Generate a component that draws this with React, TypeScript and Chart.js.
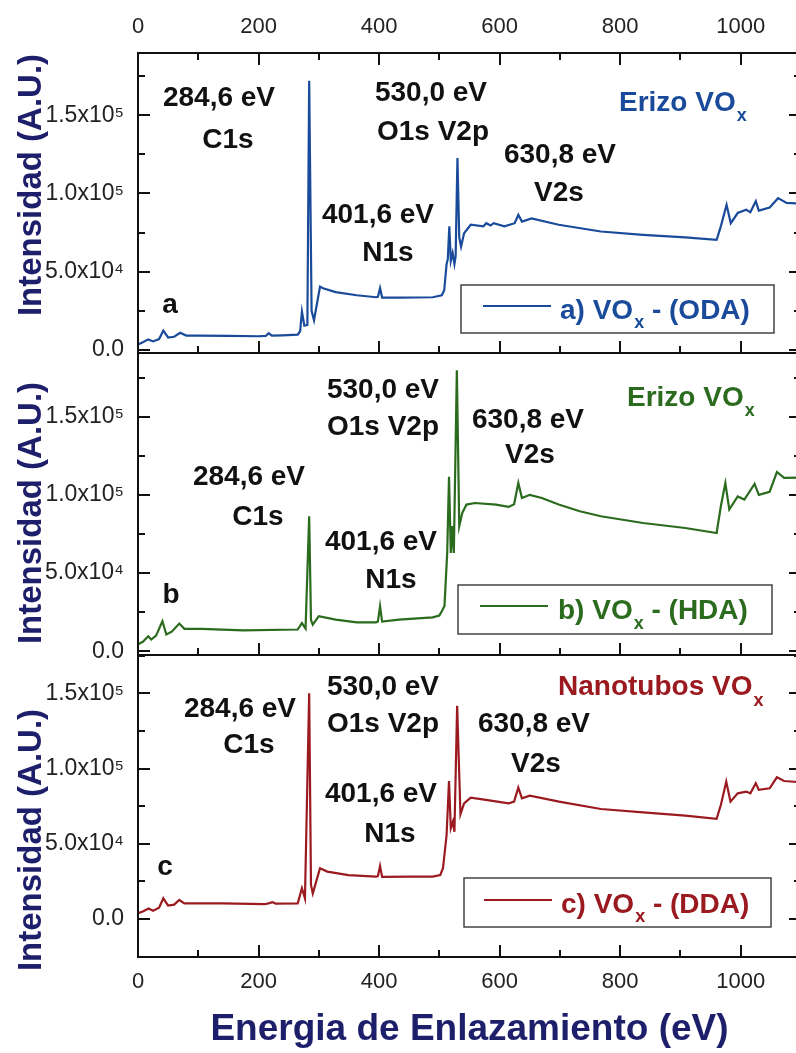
import React, { useEffect, useRef } from 'react';
import { Chart, registerables } from 'chart.js';

Chart.register(...registerables);

const FONT = '"Liberation Sans", Arial, Helvetica, sans-serif';
const NAVY = '#1d1f6b';
const BLUE = '#1a4b9b';
const GREEN = '#2a6b1d';
const RED = '#9b1a20';

// Axis ticks
const energyTicks = [0, 200, 400, 600, 800, 1000];
const energyMinorTicks = [100, 300, 500, 700, 900];
const intensityTicks = [0, 50000, 100000, 150000];
const intensityMinorTicks = [25000, 75000, 125000, 175000];

// a) VOx - (ODA)
const energyA = [0, 8, 17, 25, 35, 42, 50, 60, 70, 80, 100, 150, 200, 212, 217, 222, 240, 265, 269, 272, 276, 281, 284, 288, 292, 302, 307, 328, 363, 395, 398, 401.6, 405, 433, 489, 504, 508, 512, 514, 516.5, 519, 522, 525, 527, 530, 533, 536, 541, 552, 573, 578, 585, 590, 608, 625, 631, 637, 653, 698, 768, 838, 908, 960, 967, 976.5, 983.5, 995, 1009, 1016, 1025, 1030, 1048, 1062, 1076, 1100];
const intensityA = [3500, 5000, 6800, 5500, 7000, 12400, 8000, 8500, 11000, 9200, 9200, 9000, 8800, 9000, 10700, 9200, 9400, 9800, 12000, 24500, 15500, 16000, 172000, 25000, 19000, 40500, 39500, 37000, 35000, 33700, 34000, 39500, 33500, 33500, 33700, 35000, 38000, 55000, 58000, 79000, 57000, 62000, 55000, 60000, 122600, 72000, 66000, 74600, 80000, 79000, 81000, 79500, 81000, 79000, 81000, 86400, 82000, 84000, 80000, 75700, 73600, 72000, 70400, 79000, 92800, 81000, 87500, 89600, 88000, 95000, 89000, 91000, 97000, 94000, 93500];

// b) VOx - (HDA)
const energyB = [0, 8, 17, 22, 30, 40.5, 47, 56, 68.5, 77, 105, 175, 265, 272, 278, 284, 287, 290, 300, 328, 363, 395, 398, 401.6, 405, 433, 489, 500, 504, 508.5, 513, 516, 519, 521, 524, 529, 533, 538, 545, 559, 594, 615, 624, 631, 637, 650, 670, 698, 733, 768, 838, 908, 960, 967, 974.5, 981, 995, 1006, 1023, 1030, 1048, 1060, 1072, 1100];
const intensityB = [4500, 6000, 9600, 7500, 10000, 19200, 10700, 12500, 17700, 14300, 14300, 13400, 13900, 18000, 14500, 86300, 20000, 17000, 22400, 20200, 18500, 18500, 19000, 28800, 19000, 20200, 21700, 22800, 25600, 29000, 62900, 111500, 62900, 80000, 62900, 179600, 80000, 88400, 93800, 94800, 93800, 92300, 94000, 107600, 98000, 100000, 98000, 93800, 89500, 86300, 82000, 78800, 75600, 92700, 107600, 90600, 99000, 97000, 107000, 100000, 102000, 114600, 110800, 111000];

// c) VOx - (DDA)
const energyC = [0, 8, 17.5, 25, 35, 42, 50, 60, 68.5, 77, 140, 210, 218, 223, 228, 265, 272, 277, 284, 287, 290, 302, 314, 349, 395, 398, 401.6, 405, 454, 489, 501.5, 506, 512, 516, 519, 522.5, 525, 529.5, 535, 541, 552, 580, 615, 624, 631, 637, 650, 698.5, 768, 838, 908, 960, 967, 976, 983, 995, 1009, 1016, 1025, 1030, 1048, 1060, 1072, 1100];
const intensityC = [3800, 5000, 7000, 5500, 7500, 13700, 8900, 9500, 12600, 10400, 10400, 9800, 10500, 11200, 10200, 10400, 20400, 13700, 150000, 22600, 17000, 33700, 31500, 29200, 28100, 28500, 35200, 28000, 28100, 28100, 29200, 33700, 55800, 91700, 60300, 64700, 58000, 141800, 69600, 76900, 80700, 79000, 76900, 78000, 87300, 80200, 82000, 78000, 73100, 70900, 68700, 66500, 75800, 91300, 78000, 83500, 84700, 83500, 90200, 85800, 86900, 94200, 91700, 90900];

const SUP: Record<string, string> = { '0': '⁰', '1': '¹', '2': '²', '3': '³', '4': '⁴', '5': '⁵', '6': '⁶', '7': '⁷', '8': '⁸', '9': '⁹' };
function fmtIntensity(v: number): string {
  if (v === 0) return '0.0';
  const e = Math.floor(Math.log10(v) + 1e-9);
  const m = v / Math.pow(10, e);
  return m.toFixed(1) + 'x10' + String(e).split('').map((c) => SUP[c]).join('');
}

type Ann = [string, number, number];
type PanelCfg = {
  key: string;
  top: number;
  height: number;
  padTop: number;
  padBottom: number;
  xMode: 'top' | 'none' | 'bottom';
  yMin: number;
  yMax: number;
  energy: number[];
  intensity: number[];
  color: string;
  label: string;
  titleCenterY: number;
  anns: Ann[];
  sample: { text: string; x: number; y: number; subY: number };
  legend: { box: [number, number, number, number]; line: [number, number, number]; x: number; y: number; subY: number; pre: string; post: string };
};

const panels: PanelCfg[] = [
  {
    key: 'a', top: 0, height: 360, padTop: 0, padBottom: 7, xMode: 'top',
    yMin: -1900, yMax: 189700, energy: energyA, intensity: intensityA, color: BLUE,
    label: 'a) VOx - (ODA)', titleCenterY: 185,
    anns: [['284,6 eV', 219, 106], ['C1s', 228, 148], ['530,0 eV', 431, 101], ['O1s V2p', 433, 140], ['630,8 eV', 560, 163], ['V2s', 559, 201], ['401,6 eV', 378, 223], ['N1s', 388, 261], ['a', 170, 313]],
    sample: { text: 'Erizo VO', x: 619, y: 111, subY: 121 },
    legend: { box: [461, 285, 774, 333], line: [483, 551, 306], x: 560, y: 319, subY: 328, pre: 'a) VO', post: ' - (ODA)' },
  },
  {
    key: 'b', top: 340, height: 330, padTop: 13, padBottom: 15, xMode: 'none',
    yMin: -2400, yMax: 190700, energy: energyB, intensity: intensityB, color: GREEN,
    label: 'b) VOx - (HDA)', titleCenterY: 513,
    anns: [['530,0 eV', 383, 398], ['O1s V2p', 383, 435], ['630,8 eV', 528, 428], ['V2s', 530, 463], ['284,6 eV', 249, 485], ['C1s', 258, 525], ['401,6 eV', 381, 550], ['N1s', 391, 588], ['b', 171, 603]],
    sample: { text: 'Erizo VO', x: 627, y: 406, subY: 416 },
    legend: { box: [458, 585, 772, 634], line: [480, 548, 606], x: 558, y: 619, subY: 629, pre: 'b) VO', post: ' - (HDA)' },
  },
  {
    key: 'c', top: 642, height: 411, padTop: 13, padBottom: 0, xMode: 'bottom',
    yMin: -25300, yMax: 175500, energy: energyC, intensity: intensityC, color: RED,
    label: 'c) VOx - (DDA)', titleCenterY: 840,
    anns: [['530,0 eV', 383, 695], ['O1s V2p', 383, 732], ['284,6 eV', 240, 717], ['C1s', 249, 753], ['630,8 eV', 534, 732], ['V2s', 536, 772], ['401,6 eV', 381, 802], ['N1s', 390, 842], ['c', 165, 875]],
    sample: { text: 'Nanotubos VO', x: 558, y: 695, subY: 706 },
    legend: { box: [464, 878, 771, 927], line: [484, 552, 900], x: 561, y: 913, subY: 922, pre: 'c) VO', post: ' - (DDA)' },
  },
];

function makeDecor(cfg: PanelCfg) {
  return {
    id: 'decor_' + cfg.key,
    afterDraw(chart: any) {
      const ctx: CanvasRenderingContext2D = chart.ctx;
      const { left, right, top, bottom } = chart.chartArea;
      const xs = chart.scales.x;
      const ys = chart.scales.y;
      const oy = cfg.top;
      ctx.save();
      // frame
      ctx.strokeStyle = '#111';
      ctx.lineWidth = 2;
      ctx.strokeRect(left, top, right - left, bottom - top);
      // inward ticks
      ctx.beginPath();
      const xTick = (v: number, len: number) => {
        const px = Math.round(xs.getPixelForValue(v));
        if (cfg.xMode === 'top') {
          ctx.moveTo(px, top);
          ctx.lineTo(px, top + len);
        }
        ctx.moveTo(px, bottom);
        ctx.lineTo(px, bottom - len);
      };
      energyTicks.forEach((v) => xTick(v, 12));
      energyMinorTicks.forEach((v) => xTick(v, 7));
      const yTick = (v: number, len: number) => {
        if (v < cfg.yMin || v > cfg.yMax) return;
        const py = Math.round(ys.getPixelForValue(v));
        ctx.moveTo(left, py);
        ctx.lineTo(left + len, py);
        ctx.moveTo(right, py);
        ctx.lineTo(right - len, py);
      };
      intensityTicks.forEach((v) => yTick(v, 12));
      intensityMinorTicks.forEach((v) => yTick(v, 7));
      ctx.stroke();

      // y-axis title
      ctx.save();
      ctx.translate(41, cfg.titleCenterY - oy);
      ctx.rotate(-Math.PI / 2);
      ctx.font = `bold 33px ${FONT}`;
      ctx.fillStyle = NAVY;
      ctx.textAlign = 'center';
      ctx.textBaseline = 'alphabetic';
      ctx.fillText('Intensidad (A.U.)', 0, 0);
      ctx.restore();

      // peak annotations
      ctx.font = `bold 28px ${FONT}`;
      ctx.fillStyle = '#111';
      ctx.textAlign = 'center';
      ctx.textBaseline = 'alphabetic';
      cfg.anns.forEach(([t, x, y]) => ctx.fillText(t, x, y - oy));

      // sample name
      ctx.textAlign = 'left';
      ctx.fillStyle = cfg.color;
      ctx.font = `bold 28px ${FONT}`;
      ctx.fillText(cfg.sample.text, cfg.sample.x, cfg.sample.y - oy);
      const sw = ctx.measureText(cfg.sample.text).width;
      ctx.font = `bold 18px ${FONT}`;
      ctx.fillText('x', cfg.sample.x + sw + 1, cfg.sample.subY - oy);

      // legend
      const L = cfg.legend;
      const [bx0, by0, bx1, by1] = L.box;
      ctx.fillStyle = '#fff';
      ctx.fillRect(bx0, by0 - oy, bx1 - bx0, by1 - by0);
      ctx.strokeStyle = '#444';
      ctx.lineWidth = 1.5;
      ctx.strokeRect(bx0, by0 - oy, bx1 - bx0, by1 - by0);
      ctx.strokeStyle = cfg.color;
      ctx.lineWidth = 2;
      ctx.beginPath();
      ctx.moveTo(L.line[0], L.line[2] - oy);
      ctx.lineTo(L.line[1], L.line[2] - oy);
      ctx.stroke();
      ctx.fillStyle = cfg.color;
      ctx.font = `bold 28px ${FONT}`;
      ctx.fillText(L.pre, L.x, L.y - oy);
      const w1 = ctx.measureText(L.pre).width;
      ctx.font = `bold 18px ${FONT}`;
      ctx.fillText('x', L.x + w1 + 1, L.subY - oy);
      const w2 = ctx.measureText('x').width;
      ctx.font = `bold 28px ${FONT}`;
      ctx.fillText(L.post, L.x + w1 + w2 + 1, L.y - oy);
      ctx.restore();
    },
  };
}

function PanelChart({ cfg }: { cfg: PanelCfg }) {
  const ref = useRef<HTMLCanvasElement>(null);
  useEffect(() => {
    if (!ref.current) return;
    const data = cfg.energy.map((e, i) => ({ x: e, y: cfg.intensity[i] }));
    const chart = new Chart(ref.current, {
      type: 'line',
      data: {
        datasets: [
          {
            label: cfg.label,
            data,
            borderColor: cfg.color,
            backgroundColor: cfg.color,
            borderWidth: 2.2,
            pointRadius: 0,
            tension: 0,
            fill: false,
          },
        ],
      },
      options: {
        responsive: false,
        animation: false,
        devicePixelRatio: 1,
        layout: { padding: { left: 0, right: 3, top: cfg.padTop, bottom: cfg.padBottom } },
        plugins: { legend: { display: false }, tooltip: { enabled: false } },
        scales: {
          x: {
            type: 'linear',
            position: cfg.xMode === 'top' ? 'top' : 'bottom',
            display: cfg.xMode !== 'none',
            min: 0,
            max: 1100,
            grid: { display: false, drawTicks: false },
            border: { display: false },
            afterBuildTicks: (s: any) => {
              s.ticks = energyTicks.map((v) => ({ value: v }));
            },
            afterFit: (s: any) => {
              if (cfg.xMode === 'top') s.height = 53;
              if (cfg.xMode === 'bottom') s.height = 96;
              s.paddingLeft = 0;
              s.paddingRight = 0;
            },
            ticks: {
              autoSkip: false,
              maxRotation: 0,
              padding: cfg.xMode === 'top' ? 13 : 12,
              color: '#222',
              font: { family: FONT, size: 22 },
              callback: (v: any) => String(v),
            },
            title: {
              display: cfg.xMode === 'bottom',
              text: 'Energia de Enlazamiento (eV)',
              color: NAVY,
              font: { family: FONT, size: 37, weight: 'bold' },
              padding: { top: 0, bottom: 1 },
            },
          },
          y: {
            type: 'linear',
            min: cfg.yMin,
            max: cfg.yMax,
            grid: { display: false, drawTicks: false },
            border: { display: false },
            afterBuildTicks: (s: any) => {
              s.ticks = intensityTicks.map((v) => ({ value: v }));
            },
            afterFit: (s: any) => {
              s.width = 138;
              s.paddingTop = 0;
              s.paddingBottom = 0;
            },
            ticks: {
              autoSkip: false,
              padding: 14,
              color: '#222',
              font: { family: FONT, size: 23 },
              callback: (v: any) => fmtIntensity(Number(v)),
            },
          },
        },
      } as any,
      plugins: [makeDecor(cfg)],
    });
    return () => chart.destroy();
  }, [cfg]);
  return (
    <canvas
      ref={ref}
      width={804}
      height={cfg.height}
      style={{ position: 'absolute', left: 0, top: cfg.top, width: 804, height: cfg.height, display: 'block' }}
    />
  );
}

export default function App() {
  return (
    <div
      style={{
        position: 'absolute',
        left: 0,
        top: 0,
        width: 796,
        height: 1053,
        overflow: 'hidden',
        background: '#ffffff',
      }}
    >
      {panels.map((p) => (
        <PanelChart key={p.key} cfg={p} />
      ))}
    </div>
  );
}
